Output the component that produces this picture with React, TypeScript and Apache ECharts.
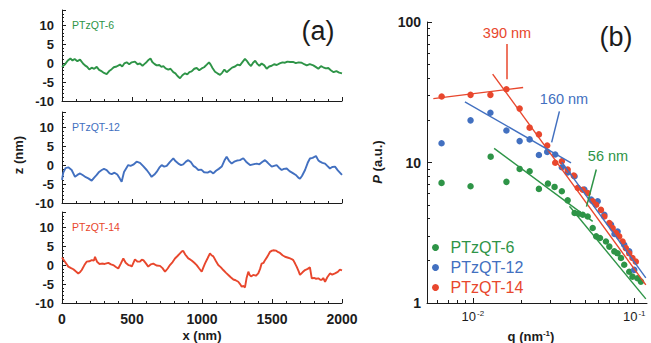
import { useEffect, useRef } from "react";
import * as echarts from "echarts";

const GREEN = "#2e9447";
const BLUE = "#4270c0";
const RED = "#e8472d";
const INK = "#1c1c1c";
const FONT = '"Liberation Sans", Arial, Helvetica, sans-serif';

// ---------- panel (a): height profiles, [x (nm), z (nm)] ----------
const profile6: number[][] = [
  [0,-1.0],[20,-0.4],[40,0.6],[60,1.2],[75,0.7],[90,1.1],[110,0.5],[129,0.9],[150,-0.1],[164,-0.6],[180,-1.0],[195,-1.7],[212,-1.2],[230,-1.5],[248,-1.0],[265,-1.8],[285,-2.2],[300,-2.6],[319,-2.9],[340,-2.0],[355,-1.6],[370,-1.1],[390,-0.9],[414,-0.4],[430,-0.9],[445,-0.1],[462,0.2],[480,-0.3],[498,0.2],[521,0.4],[540,-0.3],[557,-0.1],[575,-0.7],[590,-0.2],[605,0.3],[620,0.9],[632,1.2],[645,0.3],[660,-0.2],[676,-0.6],[695,-0.5],[710,-1.0],[724,-0.8],[740,-1.4],[759,-1.7],[775,-1.5],[795,-2.4],[810,-2.7],[825,-3.4],[843,-4.0],[860,-3.2],[879,-2.7],[895,-3.0],[910,-2.4],[926,-2.2],[945,-1.5],[962,-1.3],[980,-1.9],[998,-1.4],[1015,-1.1],[1034,-0.4],[1050,0.2],[1062,-0.4],[1075,-1.3],[1093,-2.3],[1110,-2.7],[1129,-3.1],[1145,-2.5],[1160,-1.7],[1176,-2.4],[1195,-1.8],[1215,-1.2],[1236,-0.9],[1255,-0.4],[1271,-0.6],[1290,0.3],[1307,1.1],[1320,0.6],[1335,-0.2],[1350,-0.8],[1365,0.1],[1380,0.6],[1395,-0.2],[1410,-0.7],[1426,-0.1],[1445,-0.6],[1462,-1.5],[1480,-0.9],[1498,-0.7],[1515,-0.3],[1534,-0.5],[1555,-0.1],[1575,0.2],[1593,0.1],[1610,0.4],[1629,0.3],[1650,0.3],[1670,0.0],[1690,0.2],[1712,0.1],[1730,-0.3],[1748,-0.6],[1770,-0.3],[1795,-0.6],[1812,-1.0],[1831,-1.5],[1850,-0.8],[1866,-1.1],[1885,-1.4],[1902,-1.3],[1920,-1.9],[1940,-2.4],[1960,-2.1],[1980,-2.5],[2000,-2.7],
];

const profile12: number[][] = [
  [0,-3.9],[9,-2.0],[25,-0.8],[45,-0.6],[69,-1.3],[93,-3.1],[110,-2.6],[129,-2.2],[150,-2.7],[170,-3.2],[188,-3.5],[212,-4.1],[230,-3.3],[248,-2.6],[265,-1.8],[284,-1.3],[300,-1.0],[319,-1.3],[340,-2.2],[355,-2.4],[375,-2.0],[395,-2.5],[412,-3.5],[426,-4.4],[443,-1.8],[458,-0.9],[473,0.0],[490,-0.2],[509,0.1],[533,0.9],[557,0.6],[580,-0.3],[605,-1.3],[625,-2.3],[640,-3.1],[660,-2.5],[676,-1.8],[695,-0.7],[712,0.0],[730,-0.4],[748,-0.2],[770,0.8],[795,1.75],[812,1.0],[831,0.4],[850,0.0],[866,0.2],[885,0.9],[902,1.3],[920,0.8],[938,-0.2],[955,-0.6],[974,-1.3],[995,-1.2],[1015,-1.9],[1040,-2.0],[1060,-1.6],[1081,-2.2],[1100,-1.5],[1120,-1.0],[1141,-0.4],[1160,1.2],[1176,2.2],[1192,1.2],[1212,0.4],[1230,0.9],[1250,1.2],[1271,1.3],[1295,1.8],[1315,0.9],[1330,0.4],[1343,0.0],[1365,0.2],[1391,0.4],[1410,0.2],[1430,0.8],[1450,1.3],[1470,0.6],[1498,-0.4],[1515,-0.2],[1533,0.0],[1550,-0.7],[1569,-1.3],[1585,-1.0],[1605,-0.9],[1625,-1.6],[1652,-2.2],[1670,-2.6],[1688,-3.3],[1700,-3.6],[1715,-2.8],[1736,-1.3],[1755,0.6],[1771,1.75],[1790,1.9],[1814,2.4],[1830,1.3],[1843,0.9],[1860,0.6],[1879,0.4],[1895,-0.2],[1914,-0.9],[1930,-0.5],[1950,-0.4],[1970,-1.4],[1985,-2.0],[2000,-2.6],
];

const profile14: number[][] = [
  [0,2.0],[5,1.75],[21,0.9],[45,-0.4],[65,-0.8],[81,-1.1],[100,-1.7],[116,-2.2],[130,-1.8],[141,-1.3],[160,0.0],[176,0.9],[195,1.0],[212,1.3],[228,1.2],[236,2.2],[244,1.4],[252,0.8],[268,0.3],[284,0.4],[305,0.3],[331,0.6],[350,0.2],[366,0.0],[385,-0.5],[402,-0.9],[420,0.4],[438,1.75],[455,0.6],[474,0.0],[488,-0.1],[498,-0.4],[510,0.6],[521,1.5],[540,0.9],[557,0.9],[570,1.4],[581,1.3],[598,0.5],[616,-0.4],[635,0.2],[652,0.4],[675,-0.1],[700,-0.2],[718,-0.8],[736,-1.75],[755,-0.9],[771,0.0],[790,0.8],[807,1.75],[825,2.4],[843,3.1],[856,3.6],[866,3.75],[880,2.8],[902,1.75],[915,1.5],[926,1.2],[945,0.6],[962,0.0],[980,-0.9],[998,-1.75],[1010,-0.6],[1021,0.4],[1040,1.8],[1057,3.1],[1068,2.6],[1081,2.3],[1100,1.0],[1116,0.0],[1135,-0.6],[1152,-1.3],[1170,-2.0],[1188,-2.6],[1205,-3.2],[1224,-3.8],[1240,-4.0],[1259,-4.4],[1272,-5.0],[1284,-5.7],[1296,-5.5],[1307,-5.9],[1318,-3.5],[1331,-1.75],[1340,-2.6],[1350,-3.0],[1366,-2.6],[1385,-2.8],[1402,-2.2],[1415,-1.0],[1426,0.4],[1440,0.6],[1450,1.3],[1468,2.3],[1486,3.5],[1500,3.8],[1509,3.9],[1530,3.8],[1545,3.4],[1557,3.2],[1575,2.6],[1593,2.2],[1610,2.0],[1629,1.75],[1640,1.6],[1652,1.3],[1665,0.4],[1676,-0.4],[1690,-1.6],[1700,-2.6],[1718,-1.9],[1736,-1.3],[1755,-1.0],[1771,-0.6],[1784,-3.5],[1800,-3.4],[1815,-3.6],[1831,-3.5],[1845,-3.9],[1855,-3.9],[1866,-3.4],[1879,-4.4],[1895,-3.2],[1914,-2.2],[1930,-2.5],[1950,-2.2],[1970,-1.8],[1985,-1.2],[2000,-1.4],
];

const zTickValues = [-10, -5, 0, 5, 10];

// ---------- panel (b): power spectra, q (nm^-1) and P (a.u.) ----------
const q6 = [0.0064,0.00968,0.0129,0.01615,0.0195,0.02249,0.02567,0.0292,0.0321,0.0356,0.0387,0.0427,0.0453,0.048,0.0515,0.0553,0.0581,0.0614,0.0668,0.0701,0.0753,0.0789,0.0828,0.0867,0.0931,0.0975,0.1047,0.11];
const p6 = [7.16,6.77,11.0,7.28,9.0,8.67,6.49,7.08,6.7,6.24,5.38,4.37,4.32,4.25,4.13,3.42,2.98,2.9,2.74,2.52,2.33,2.26,2.09,1.87,1.67,1.54,1.5,1.42];

const q12 = [0.0064,0.00968,0.01285,0.01615,0.0195,0.02249,0.02567,0.0289,0.0324,0.0356,0.0387,0.0427,0.0491,0.0541,0.0594,0.0653,0.0718,0.0755,0.0789,0.0867,0.0931,0.1];
const p12 = [13.7,19.95,22.6,16.9,14.2,14.6,11.3,11.9,11.4,9.26,8.5,7.98,6.41,5.44,5.3,4.25,3.61,3.1,3.23,2.6,2.33,1.72];

const q14 = [0.00641,0.00968,0.01285,0.01615,0.0195,0.02249,0.02567,0.0289,0.0324,0.0356,0.0387,0.0422,0.0447,0.048,0.0515,0.0553,0.0581,0.0622,0.0653,0.0701,0.0735,0.0771,0.0807,0.0847,0.0887,0.0931,0.0975,0.1023];
const p14 = [29.5,30.3,30.3,33.2,24.2,17.7,15.85,13.2,9.95,10.2,8.9,8.07,6.6,6.4,6.07,5.3,5.0,4.6,4.13,3.71,3.42,3.15,2.98,2.74,2.46,2.26,2.09,1.97];

// fitted power-law segments: [q, P] end points
const fit14low = [[0.00569, 28.5], [0.0205, 34.2]];
const fit14high = [[0.01327, 42.6], [0.118, 1.346]];
const fit12low = [[0.00893, 27.0], [0.0406, 9.95]];
const fit12high = [[0.0356, 10.07], [0.118, 1.51]];
const fit6low = [[0.01355, 12.6], [0.0553, 3.81]];
const fit6high = [[0.0397, 4.88], [0.118, 1.07]];

// crossover arrows: [start, end] in [q, P]
const arrow390 = [[0.0162, 69.6], [0.0162, 39.2]];
const arrow160 = [[0.0344, 23.1], [0.0308, 13.9]];
const arrow56 = [[0.0582, 8.91], [0.0506, 4.85]];

const Q_MIN = 0.0052;
const Q_MAX = 0.12;
const P_MIN = 1;
const P_MAX = 100;
const qMajor = [0.01, 0.1];
const qMinor = [0.006,0.007,0.008,0.009,0.02,0.03,0.04,0.05,0.06,0.07,0.08,0.09];
const pMajor = [1, 10, 100];
const pMinor = [2,3,4,5,6,7,8,9,20,30,40,50,60,70,80,90];

const zip = (a: number[], b: number[]) => a.map((v, i) => [v, b[i]]);

function buildOption() {
  const gridsA = [
    { left: 62, top: 10, width: 280, height: 91 },
    { left: 62, top: 112, width: 280, height: 91 },
    { left: 62, top: 212, width: 280, height: 91 },
  ];
  const grid = [
    ...gridsA.map((g) => ({ ...g, containLabel: false, outerBoundsMode: "none" })),
    { left: 427, top: 22, width: 220, height: 281, containLabel: false, outerBoundsMode: "none" },
  ];

  const tickStyle = { color: INK, width: 1 };
  const lineAx = { show: true, onZero: false, lineStyle: { color: INK, width: 1 } };

  const xAxis: any[] = [0, 1, 2].map((i) => ({
    type: "value",
    gridIndex: i,
    min: 0,
    max: 2000,
    interval: 500,
    axisLine: lineAx,
    axisTick: { show: true, inside: true, length: 4, lineStyle: tickStyle },
    minorTick: { show: true, splitNumber: 5, length: 2, lineStyle: tickStyle },
    splitLine: { show: false },
    minorSplitLine: { show: false },
    axisLabel: {
      show: i === 2,
      margin: 9,
      color: INK,
      fontSize: 14,
      fontWeight: "bold",
      fontFamily: FONT,
      formatter: (v: number) => String(v),
    },
  }));
  xAxis.push({ type: "log", gridIndex: 3, min: Q_MIN, max: Q_MAX, logBase: 10, show: false });
  xAxis.push({
    type: "value",
    gridIndex: 3,
    position: "bottom",
    min: Math.log10(Q_MIN),
    max: Math.log10(Q_MAX),
    axisLine: lineAx,
    axisTick: { show: true, inside: true, length: 5, lineStyle: tickStyle, customValues: qMajor.map(Math.log10) },
    axisLabel: {
      show: true,
      customValues: qMajor.map(Math.log10),
      margin: 6,
      formatter: (v: number) => `{b|10}{s|${Math.round(v)}}`,
      rich: {
        b: { fontSize: 13, fontFamily: FONT, color: INK },
        s: { fontSize: 8, fontFamily: FONT, color: INK, verticalAlign: "top", padding: [0, 0, 6, 1] },
      },
    },
    splitLine: { show: false },
  });
  xAxis.push({
    type: "value",
    gridIndex: 3,
    position: "bottom",
    min: Math.log10(Q_MIN),
    max: Math.log10(Q_MAX),
    axisLine: { show: false },
    axisTick: { show: true, inside: true, length: 3, lineStyle: tickStyle, customValues: qMinor.map(Math.log10) },
    axisLabel: { show: false },
    splitLine: { show: false },
  });

  const yAxis: any[] = [0, 1, 2].map((i) => ({
    type: "value",
    gridIndex: i,
    min: -10,
    max: 14,
    interval: 5,
    axisLine: lineAx,
    axisTick: { show: true, inside: true, length: 4, lineStyle: tickStyle },
    minorTick: { show: true, splitNumber: 5, length: 2, lineStyle: tickStyle },
    splitLine: { show: false },
    minorSplitLine: { show: false },
    axisLabel: {
      margin: 8,
      color: INK,
      fontSize: 13,
      fontWeight: "bold",
      fontFamily: FONT,
      formatter: (v: number) => (zTickValues.includes(v) ? String(v) : ""),
    },
  }));
  yAxis.push({ type: "log", gridIndex: 3, min: P_MIN, max: P_MAX, logBase: 10, show: false });
  yAxis.push({
    type: "value",
    gridIndex: 3,
    position: "left",
    min: Math.log10(P_MIN),
    max: Math.log10(P_MAX),
    axisLine: lineAx,
    axisTick: { show: true, inside: true, length: 5, lineStyle: tickStyle, customValues: pMajor.map(Math.log10) },
    axisLabel: {
      show: true,
      customValues: pMajor.map(Math.log10),
      margin: 6,
      color: INK,
      fontSize: 14,
      fontWeight: "bold",
      fontFamily: FONT,
      formatter: (v: number) => String(Math.round(Math.pow(10, v))),
    },
    splitLine: { show: false },
  });
  yAxis.push({
    type: "value",
    gridIndex: 3,
    position: "left",
    min: Math.log10(P_MIN),
    max: Math.log10(P_MAX),
    axisLine: { show: false },
    axisTick: { show: true, inside: true, length: 3, lineStyle: tickStyle, customValues: pMinor.map(Math.log10) },
    axisLabel: { show: false },
    splitLine: { show: false },
  });

  const profileSeries = [
    { name: "profile-6", data: profile6, color: GREEN },
    { name: "profile-12", data: profile12, color: BLUE },
    { name: "profile-14", data: profile14, color: RED },
  ].map((s, i) => ({
    type: "line",
    name: s.name,
    xAxisIndex: i,
    yAxisIndex: i,
    data: s.data,
    showSymbol: false,
    symbol: "none",
    lineStyle: { color: s.color, width: 1.9 },
    itemStyle: { color: s.color },
    silent: true,
  }));

  const scatter = [
    { name: "PTzQT-6", q: q6, p: p6, color: GREEN },
    { name: "PTzQT-12", q: q12, p: p12, color: BLUE },
    { name: "PTzQT-14", q: q14, p: p14, color: RED },
  ].map((s) => ({
    type: "scatter",
    name: s.name,
    xAxisIndex: 3,
    yAxisIndex: 3,
    data: zip(s.q, s.p),
    symbol: "circle",
    symbolSize: 6.5,
    itemStyle: { color: s.color, opacity: 1 },
    z: 2,
    silent: true,
  }));

  const arrowMark = (pts: number[][], color: string) => ({
    symbol: ["none", "arrow"],
    symbolSize: [0, 9],
    silent: true,
    label: { show: false },
    emphasis: { disabled: true },
    lineStyle: { color, width: 1.5, type: "solid" },
    data: [[{ coord: pts[0] }, { coord: pts[1] }]],
  });

  const fits = [
    { name: "fit14low", data: fit14low, color: RED, arrow: arrow390 },
    { name: "fit14high", data: fit14high, color: RED },
    { name: "fit12low", data: fit12low, color: BLUE, arrow: arrow160 },
    { name: "fit12high", data: fit12high, color: BLUE },
    { name: "fit6low", data: fit6low, color: GREEN, arrow: arrow56 },
    { name: "fit6high", data: fit6high, color: GREEN },
  ].map((f) => ({
    type: "line",
    name: f.name,
    xAxisIndex: 3,
    yAxisIndex: 3,
    data: f.data,
    showSymbol: false,
    symbol: "none",
    lineStyle: { color: f.color, width: 1.4 },
    itemStyle: { color: f.color },
    z: 3,
    silent: true,
    ...(f.arrow ? { markLine: arrowMark(f.arrow, f.color) } : {}),
  }));

  const text = (t: string, x: number, y: number, size: number, color: string, extra: any = {}) => ({
    type: "text",
    x,
    y,
    rotation: extra.rotation || 0,
    silent: true,
    style: {
      text: t,
      fill: color,
      fontSize: size,
      fontFamily: FONT,
      fontWeight: extra.fontWeight || "normal",
      align: extra.align || "center",
      verticalAlign: "middle",
      rich: extra.rich,
    },
  });

  const graphic = [
    text("(a)", 318, 31, 27, INK),
    text("(b)", 616, 37, 27, INK),
    text("PTzQT-6", 72, 25, 10.5, GREEN, { align: "left" }),
    text("PTzQT-12", 72, 127, 10.5, BLUE, { align: "left" }),
    text("PTzQT-14", 72, 227, 10.5, RED, { align: "left" }),
    text("z (nm)", 18, 155, 13, INK, { rotation: Math.PI / 2, fontWeight: "bold" }),
    text("x (nm)", 202, 335, 13, INK, { fontWeight: "bold" }),
    text("{p|P} {n|(a.u.)}", 377, 162, 13, INK, {
      rotation: Math.PI / 2,
      fontWeight: "bold",
      rich: {
        p: { fontSize: 13, fontStyle: "italic", fontWeight: "bold", fontFamily: FONT, fill: INK },
        n: { fontSize: 13, fontWeight: "bold", fontFamily: FONT, fill: INK },
      },
    }),
    text("{n|q (nm}{s|-1}{n|)}", 531, 336, 13, INK, {
      fontWeight: "bold",
      rich: {
        n: { fontSize: 13, fontWeight: "bold", fontFamily: FONT, fill: INK },
        s: { fontSize: 8, fontWeight: "bold", fontFamily: FONT, fill: INK, verticalAlign: "top", padding: [0, 0, 6, 0] },
      },
    }),
    text("390 nm", 507, 33, 14.5, RED),
    text("160 nm", 564, 99, 14.5, BLUE),
    text("56 nm", 608, 156, 14.5, GREEN),
  ];

  return {
    animation: false,
    backgroundColor: "#ffffff",
    textStyle: { fontFamily: FONT },
    grid,
    xAxis,
    yAxis,
    legend: {
      show: true,
      orient: "vertical",
      left: 432,
      top: 239,
      padding: 0,
      icon: "circle",
      itemWidth: 20,
      itemHeight: 7,
      itemGap: 3,
      selectedMode: false,
      textStyle: { fontSize: 16, fontFamily: FONT, lineHeight: 17 },
      data: [
        { name: "PTzQT-6", textStyle: { color: GREEN } },
        { name: "PTzQT-12", textStyle: { color: BLUE } },
        { name: "PTzQT-14", textStyle: { color: RED } },
      ],
    },
    series: [...profileSeries, ...scatter, ...fits],
    graphic,
  };
}

export default function App() {
  const ref = useRef<HTMLDivElement>(null);
  useEffect(() => {
    if (!ref.current) return;
    const chart = echarts.init(ref.current, null, { renderer: "svg" });
    chart.setOption(buildOption() as any);
    return () => chart.dispose();
  }, []);
  return (
    <div
      ref={ref}
      style={{ position: "absolute", left: 0, top: 0, width: 651, height: 343, background: "#fff" }}
    />
  );
}
